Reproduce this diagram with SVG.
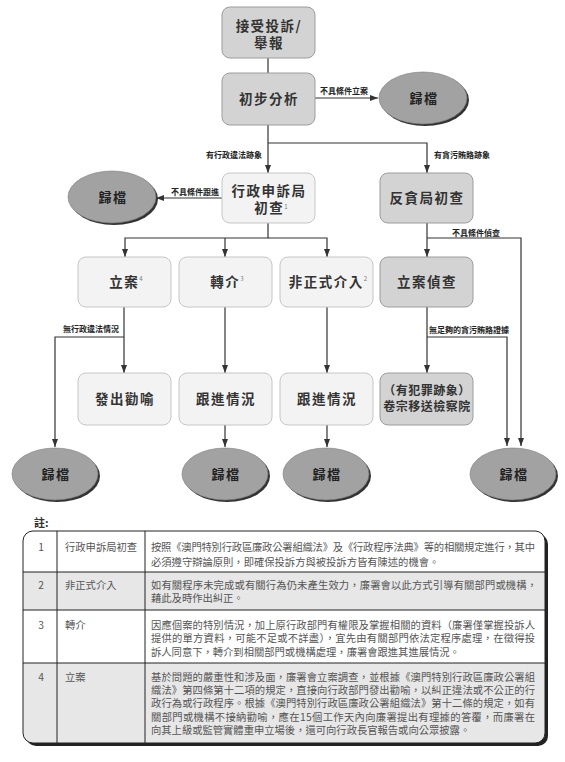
<svg xmlns="http://www.w3.org/2000/svg" width="565" height="762" viewBox="0 0 565 762">
<style>
  .dark { fill:#d3d3d3; stroke:#9c9c9c; stroke-width:1; }
  .light { fill:#f3f3f3; stroke:#c6c6c6; stroke-width:1; }
  .ell { fill:#a2a2a2; stroke:#7a7a7a; stroke-width:0.6; }
  .shad { fill:#333; }
  .nt { font-family:"Noto Sans CJK TC","Noto Sans",sans-serif; font-size:13.5px; font-weight:bold; fill:#333; text-anchor:middle; letter-spacing:1.5px; }
  .nt2 { font-family:"Noto Sans CJK TC","Noto Sans",sans-serif; font-size:12px; font-weight:bold; fill:#333; text-anchor:middle; letter-spacing:0.5px; }
  .et { font-family:"Noto Sans CJK TC","Noto Sans",sans-serif; font-size:13px; font-weight:bold; fill:#222; text-anchor:middle; letter-spacing:1.5px; }
  .sup { font-size:6px; font-weight:normal; fill:#777; letter-spacing:0; }
  .lab { font-family:"Noto Sans CJK TC","Noto Sans",sans-serif; font-size:8px; font-weight:bold; fill:#222; }
  .conn { fill:none; stroke:#333; stroke-width:1.2; }
  .tt { font-family:"Noto Sans CJK TC","Noto Sans",sans-serif; font-size:10.3px; fill:#555; }
  .tn { font-family:"Noto Sans CJK TC","Noto Sans",sans-serif; font-size:10.3px; fill:#555; text-anchor:middle; }
  .grid { stroke:#222; stroke-width:1; fill:none; }
</style>
<defs>
  <marker id="arr" markerWidth="8" markerHeight="6" refX="8" refY="3" orient="auto" markerUnits="userSpaceOnUse">
    <path d="M0,0 L8,3 L0,6 z" fill="#333"/>
  </marker>
  <clipPath id="tclip"><rect x="23" y="531" width="522" height="212" rx="10"/></clipPath>
</defs>
<rect width="565" height="762" fill="#fff"/>

<g id="connectors">
  <path class="conn" d="M268,58 V73"/>
  <path class="conn" d="M315,98 H378" marker-end="url(#arr)"/>
  <path class="conn" d="M268,125 V173" marker-end="url(#arr)"/>
  <path class="conn" d="M268,143 H427 V173" marker-end="url(#arr)"/>
  <path class="conn" d="M222,198 H156" marker-end="url(#arr)"/>
  <path class="conn" d="M268,223 V238 H125 V257" marker-end="url(#arr)"/>
  <path class="conn" d="M225,238 V257" marker-end="url(#arr)"/>
  <path class="conn" d="M268,238 H327 V257" marker-end="url(#arr)"/>
  <path class="conn" d="M427,223 V257" marker-end="url(#arr)"/>
  <path class="conn" d="M427,238 H521 V446" marker-end="url(#arr)"/>
  <path class="conn" d="M124,307 V373" marker-end="url(#arr)"/>
  <path class="conn" d="M124,337 H55 V447" marker-end="url(#arr)"/>
  <path class="conn" d="M225,307 V373" marker-end="url(#arr)"/>
  <path class="conn" d="M327,307 V373" marker-end="url(#arr)"/>
  <path class="conn" d="M427,307 V373" marker-end="url(#arr)"/>
  <path class="conn" d="M427,337 H507 V446" marker-end="url(#arr)"/>
  <path class="conn" d="M225,425 V447" marker-end="url(#arr)"/>
  <path class="conn" d="M327,425 V447" marker-end="url(#arr)"/>
  <text class="lab" x="320" y="94">不具條件立案</text>
  <text class="lab" x="206" y="158">有行政違法跡象</text>
  <text class="lab" x="434" y="158">有貪污賄賂跡象</text>
  <text class="lab" x="171" y="195">不具條件跟進</text>
  <text class="lab" x="452" y="236">不具條件偵查</text>
  <text class="lab" x="63" y="332">無行政違法情況</text>
  <text class="lab" x="429" y="333">無足夠的貪污賄賂證據</text>
</g>

<g id="n1"><rect class="dark" x="222" y="7" width="93" height="51" rx="8"/>
  <text class="nt" x="269" y="31">接受投訴/</text><text class="nt" x="269" y="48">舉報</text></g>
<g id="n2"><rect class="dark" x="222" y="73" width="93" height="52" rx="8"/>
  <text class="nt" x="269" y="104">初步分析</text></g>
<g id="e1"><ellipse class="shad" cx="425" cy="100" rx="44" ry="26"/><ellipse class="ell" cx="423" cy="98" rx="44" ry="26"/>
  <text class="et" x="424" y="103">歸檔</text></g>
<g id="n3"><rect class="light" x="222" y="173" width="93" height="50" rx="8"/>
  <text class="nt" x="269" y="196">行政申訴局</text><text class="nt" x="271" y="213">初查<tspan class="sup" dy="-4">1</tspan></text></g>
<g id="n4"><rect class="dark" x="380" y="173" width="93" height="50" rx="8"/>
  <text class="nt" x="427" y="203">反貪局初查</text></g>
<g id="e2"><ellipse class="shad" cx="114" cy="199" rx="44" ry="26"/><ellipse class="ell" cx="112" cy="197" rx="44" ry="26"/>
  <text class="et" x="113" y="202">歸檔</text></g>
<g id="n5"><rect class="light" x="78" y="257" width="93" height="50" rx="8"/>
  <text class="nt" x="126" y="287">立案<tspan class="sup" dy="-6">4</tspan></text></g>
<g id="n6"><rect class="light" x="179" y="257" width="93" height="50" rx="8"/>
  <text class="nt" x="227" y="287">轉介<tspan class="sup" dy="-6">3</tspan></text></g>
<g id="n7"><rect class="light" x="280" y="257" width="93" height="50" rx="8"/>
  <text class="nt" x="328" y="287">非正式介入<tspan class="sup" dy="-6">2</tspan></text></g>
<g id="n8"><rect class="dark" x="380" y="257" width="93" height="50" rx="8"/>
  <text class="nt" x="427" y="287">立案偵查</text></g>
<g id="n9"><rect class="light" x="78" y="373" width="93" height="52" rx="8"/>
  <text class="nt" x="125" y="404">發出勸喻</text></g>
<g id="n10"><rect class="light" x="179" y="373" width="93" height="52" rx="8"/>
  <text class="nt" x="226" y="404">跟進情況</text></g>
<g id="n11"><rect class="light" x="280" y="373" width="93" height="52" rx="8"/>
  <text class="nt" x="327" y="404">跟進情況</text></g>
<g id="n12"><rect class="dark" x="380" y="373" width="93" height="52" rx="8"/>
  <text class="nt2" x="427" y="395">（有犯罪跡象）</text><text class="nt2" x="427" y="411">卷宗移送檢察院</text></g>
<g id="e3"><ellipse class="shad" cx="57" cy="476" rx="43" ry="26"/><ellipse class="ell" cx="55" cy="474" rx="43" ry="26"/>
  <text class="et" x="56" y="479">歸檔</text></g>
<g id="e4"><ellipse class="shad" cx="227" cy="476" rx="43" ry="26"/><ellipse class="ell" cx="225" cy="474" rx="43" ry="26"/>
  <text class="et" x="226" y="479">歸檔</text></g>
<g id="e5"><ellipse class="shad" cx="328" cy="476" rx="43" ry="26"/><ellipse class="ell" cx="326" cy="474" rx="43" ry="26"/>
  <text class="et" x="327" y="479">歸檔</text></g>
<g id="e6"><ellipse class="shad" cx="515" cy="476" rx="43" ry="26"/><ellipse class="ell" cx="513" cy="474" rx="43" ry="26"/>
  <text class="et" x="514" y="479">歸檔</text></g>

<g id="notes">
  <text x="34" y="527" font-family="'Noto Sans CJK TC',sans-serif" font-size="11" font-weight="bold" fill="#333">註:</text>
  <rect x="26" y="534" width="522" height="212" rx="10" fill="#222"/>
  <g clip-path="url(#tclip)">
    <rect x="23" y="531" width="522" height="212" fill="#fff"/>
    <rect x="23" y="572" width="522" height="38" fill="#e7e7e7"/>
    <rect x="23" y="663" width="522" height="80" fill="#e7e7e7"/>
  </g>
  <rect class="grid" x="23" y="531" width="522" height="212" rx="10"/>
  <path class="grid" d="M57,531 V743 M145,531 V743 M23,572 H545 M23,610 H545 M23,663 H545"/>
  <text class="tn" x="41" y="551">1</text>
  <text class="tn" x="41" y="589">2</text>
  <text class="tn" x="41" y="629">3</text>
  <text class="tn" x="41" y="681">4</text>
  <text class="tt" x="65" y="551">行政申訴局初查</text>
  <text class="tt" x="65" y="589">非正式介入</text>
  <text class="tt" x="65" y="629">轉介</text>
  <text class="tt" x="65" y="681">立案</text>
  <text class="tt" x="151" y="551" textLength="384" lengthAdjust="spacing">按照《澳門特別行政區廉政公署組織法》及《行政程序法典》等的相關規定進行，其中</text>
  <text class="tt" x="151" y="566">必須遵守辯論原則，即確保投訴方與被投訴方皆有陳述的機會。</text>
  <text class="tt" x="151" y="589" textLength="386" lengthAdjust="spacing">如有關程序未完成或有關行為仍未產生效力，廉署會以此方式引導有關部門或機構，</text>
  <text class="tt" x="151" y="602">藉此及時作出糾正。</text>
  <text class="tt" x="151" y="629" textLength="384" lengthAdjust="spacing">因應個案的特別情況，加上原行政部門有權限及掌握相關的資料（廉署僅掌握投訴人</text>
  <text class="tt" x="151" y="642" textLength="384" lengthAdjust="spacing">提供的單方資料，可能不足或不詳盡），宜先由有關部門依法定程序處理，在徵得投</text>
  <text class="tt" x="151" y="656">訴人同意下，轉介到相關部門或機構處理，廉署會跟進其進展情況。</text>
  <text class="tt" x="151" y="681" textLength="384" lengthAdjust="spacing">基於問題的嚴重性和涉及面，廉署會立案調查，並根據《澳門特別行政區廉政公署組</text>
  <text class="tt" x="151" y="694" textLength="384" lengthAdjust="spacing">織法》第四條第十二項的規定，直接向行政部門發出勸喻，以糾正違法或不公正的行</text>
  <text class="tt" x="151" y="707" textLength="384" lengthAdjust="spacing">政行為或行政程序。根據《澳門特別行政區廉政公署組織法》第十二條的規定，如有</text>
  <text class="tt" x="151" y="721" textLength="384" lengthAdjust="spacing">關部門或機構不接納勸喻，應在15個工作天內向廉署提出有理據的答覆，而廉署在</text>
  <text class="tt" x="151" y="734">向其上級或監管實體重申立場後，還可向行政長官報告或向公眾披露。</text>
</g>
</svg>
